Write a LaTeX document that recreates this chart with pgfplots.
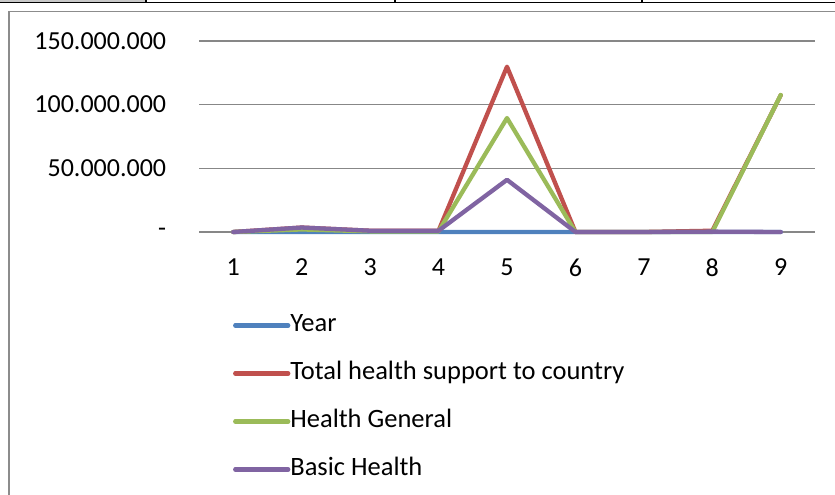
\documentclass[border=0pt]{standalone}
\usepackage{pgfplots}
\pgfplotsset{compat=1.18}
\usepackage{fontspec}
\setmainfont{Carlito}
\definecolor{cblue}{HTML}{4F81BD}
\definecolor{cred}{HTML}{C0504D}
\definecolor{cgreen}{HTML}{9BBB59}
\definecolor{cpurple}{HTML}{8064A2}
\definecolor{gridc}{HTML}{878787}
\definecolor{framec}{HTML}{8C8C8C}
\definecolor{cellc}{HTML}{C8C8C8}
\begin{document}
\fontsize{26bp}{31bp}\selectfont
\begin{tikzpicture}
\path[use as bounding box] (0bp,0bp) rectangle (835bp,495bp);
% table strip at top
\fill[cellc] (0bp,495bp) rectangle (146bp,493.3bp);
\draw[black,line width=1.7bp] (0bp,492.5bp) -- (835bp,492.5bp);
\foreach \x in {146,395,642} \draw[black,line width=1.5bp] (\x bp,495bp) -- (\x bp,491.6bp);
% chart frame
\draw[framec,line width=1.6bp] (9bp,-5bp) -- (9bp,483.5bp) -- (845bp,483.5bp);
\begin{axis}[
  at={(199bp,263bp)}, anchor=south west,
  scale only axis, width=616bp, height=191bp,
  xmin=0.5, xmax=9.5, ymin=0, ymax=150000000,
  axis line style={draw=none},
  major tick length=0pt,
  xtick={1,2,3,4,5,6,7,8,9},
  xticklabels={1,2,3,4,5,6,7,8,9},
  ytick={0,50000000,100000000,150000000},
  yticklabels={-,50.000.000,100.000.000,150.000.000},
  ymajorgrids,
  grid style={gridc,line width=1.3bp},
  scaled y ticks=false,
  xticklabel style={font=\fontsize{26bp}{31bp}\selectfont, yshift=-18bp},
  yticklabel style={font=\fontsize{26bp}{31bp}\selectfont, xshift=-24bp},
  clip=false,
  every axis plot/.append style={line width=4.3bp, line join=round, line cap=round},
  legend style={at={(axis description cs:0.055,-0.42)}, anchor=north west,
    draw=none, fill=none, inner sep=0pt, row sep=22bp,
    font=\fontsize{26.5bp}{31bp}\selectfont,
    nodes={inner sep=0pt, text height=19bp, text depth=7bp}},
  legend cell align=left,
  legend image code/.code={\draw[#1, line width=4.3bp, line cap=round] (0bp,0bp) -- (53bp,0bp);},
]
\addplot[cblue] coordinates {(1,2000) (2,2001) (3,2002) (4,2003) (5,2004) (6,2005) (7,2006) (8,2007) (9,2008)};
\addlegendentry{Year}
\addplot[cred] coordinates {(1,0) (2,3500000) (3,1000000) (4,1000000) (5,129800000) (6,0) (7,0) (8,1000000) (9,107500000)};
\addlegendentry{Total health support to country}
\addplot[cgreen] coordinates {(1,0) (2,2000000) (3,500000) (4,500000) (5,89500000) (6,0) (7,0) (8,0) (9,107600000)};
\addlegendentry{Health General}
\addplot[cpurple] coordinates {(1,0) (2,3500000) (3,1000000) (4,1000000) (5,41000000) (6,0) (7,0) (8,300000) (9,0)};
\addlegendentry{Basic Health}
\end{axis}
\end{tikzpicture}
\end{document}
